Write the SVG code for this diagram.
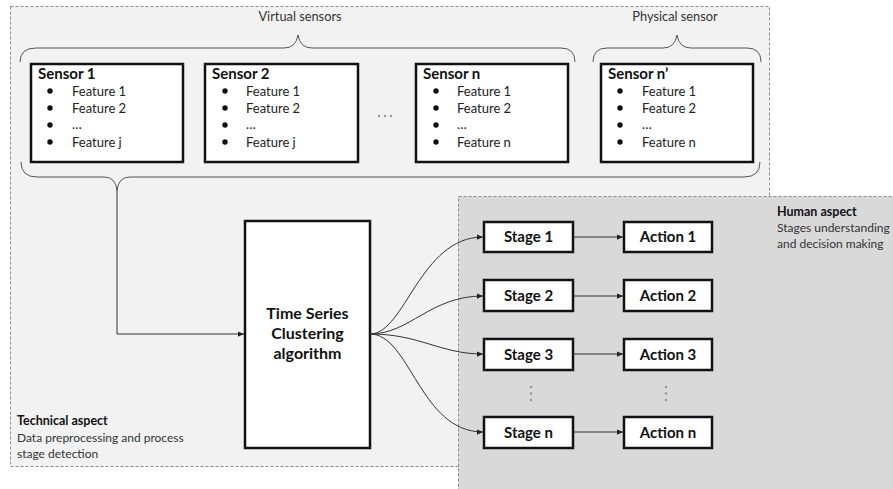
<svg xmlns="http://www.w3.org/2000/svg" width="893" height="489" viewBox="0 0 893 489">
  <style>
    text { font-family: Lato, "Liberation Sans", "DejaVu Sans", sans-serif; fill: #111; }
    .area { stroke: #8c8c8c; stroke-width: 1; stroke-dasharray: 3 2; }
    .box { fill: #fff; stroke: #111; stroke-width: 2.5; }
    .title { font-size: 15px; font-weight: bold; }
    .feat { font-size: 13px; fill: #222; }
    .grp { font-size: 12.8px; fill: #333; }
    .cap { font-size: 12px; fill: #333; }
    .capb { font-size: 12.5px; font-weight: bold; fill: #111; }
    .lbl { font-size: 15px; font-weight: bold; text-anchor: middle; }
    .brace { fill: none; stroke: #555; stroke-width: 1; }
    .conn { fill: none; stroke: #333; stroke-width: 1; }
    .dot { fill: #999; }
    .bul { fill: #111; }
  </style>
  <defs>
    <marker id="arr" viewBox="0 0 8 8" refX="8" refY="4" markerWidth="6" markerHeight="6" markerUnits="userSpaceOnUse" orient="auto">
      <path d="M0,0.5 L8,4 L0,7.5 Z" fill="#222"/>
    </marker>
  </defs>

  <rect width="893" height="489" fill="#fff"/>

  <!-- technical area -->
  <g id="technical-area">
    <rect class="area" x="10.5" y="6.5" width="759" height="460" fill="#f2f2f2"/>
    <text class="capb" x="17" y="425">Technical aspect</text>
    <text class="cap" x="17" y="442">Data preprocessing and process</text>
    <text class="cap" x="17" y="458">stage detection</text>
  </g>

  <!-- human area -->
  <g id="human-area">
    <rect class="area" x="458.5" y="196.5" width="440" height="300" fill="#d9d9d9"/>
    <text class="capb" x="777" y="216">Human aspect</text>
    <text class="cap" x="777" y="232">Stages understanding</text>
    <text class="cap" x="777" y="248">and decision making</text>
  </g>

  <!-- braces and group labels -->
  <g id="groups">
    <text class="grp" x="300" y="21" text-anchor="middle">Virtual sensors</text>
    <path class="brace" d="M20,62 Q20,48 36,48 L284,48 Q296,48 298,35 Q300,48 312,48 L561,48 Q575,48 575,62"/>
    <text class="grp" x="675" y="21" text-anchor="middle">Physical sensor</text>
    <path class="brace" d="M593,62 Q593,48 607,48 L663,48 Q675,48 677,35 Q679,48 691,48 L747,48 Q761,48 761,62"/>
    <path class="brace" d="M21,162 Q21,177 37,177 L104,177 Q116,177 117,191 Q118,177 130,177 L744,177 Q760,177 760,162"/>
  </g>

  <!-- sensors -->
  <g id="sensor-1">
    <rect class="box" x="31" y="64" width="152" height="98"/>
    <text class="title" x="38" y="79">Sensor 1</text>
    <circle class="bul" cx="50" cy="91" r="2.7"/><text class="feat" x="72" y="95.5">Feature 1</text>
    <circle class="bul" cx="50" cy="108" r="2.7"/><text class="feat" x="72" y="112.5">Feature 2</text>
    <circle class="bul" cx="50" cy="125" r="2.7"/><text class="feat" x="72" y="129">…</text>
    <circle class="bul" cx="50" cy="142" r="2.7"/><text class="feat" x="72" y="146.5">Feature j</text>
  </g>
  <g id="sensor-2">
    <rect class="box" x="205" y="64" width="153" height="98"/>
    <text class="title" x="212" y="79">Sensor 2</text>
    <circle class="bul" cx="225" cy="91" r="2.7"/><text class="feat" x="246" y="95.5">Feature 1</text>
    <circle class="bul" cx="225" cy="108" r="2.7"/><text class="feat" x="246" y="112.5">Feature 2</text>
    <circle class="bul" cx="225" cy="125" r="2.7"/><text class="feat" x="246" y="129">…</text>
    <circle class="bul" cx="225" cy="142" r="2.7"/><text class="feat" x="246" y="146.5">Feature j</text>
  </g>
  <g id="ellipsis">
    <circle class="dot" cx="379" cy="116" r="1.2"/>
    <circle class="dot" cx="385" cy="116" r="1.2"/>
    <circle class="dot" cx="391" cy="116" r="1.2"/>
  </g>
  <g id="sensor-n">
    <rect class="box" x="416" y="64" width="152" height="98"/>
    <text class="title" x="423" y="79">Sensor n</text>
    <circle class="bul" cx="436" cy="91" r="2.7"/><text class="feat" x="457" y="95.5">Feature 1</text>
    <circle class="bul" cx="436" cy="108" r="2.7"/><text class="feat" x="457" y="112.5">Feature 2</text>
    <circle class="bul" cx="436" cy="125" r="2.7"/><text class="feat" x="457" y="129">…</text>
    <circle class="bul" cx="436" cy="142" r="2.7"/><text class="feat" x="457" y="146.5">Feature n</text>
  </g>
  <g id="sensor-n-prime">
    <rect class="box" x="601" y="64" width="152" height="98"/>
    <text class="title" x="608" y="79">Sensor n’</text>
    <circle class="bul" cx="620" cy="91" r="2.7"/><text class="feat" x="642" y="95.5">Feature 1</text>
    <circle class="bul" cx="620" cy="108" r="2.7"/><text class="feat" x="642" y="112.5">Feature 2</text>
    <circle class="bul" cx="620" cy="125" r="2.7"/><text class="feat" x="642" y="129">…</text>
    <circle class="bul" cx="620" cy="142" r="2.7"/><text class="feat" x="642" y="146.5">Feature n</text>
  </g>

  <!-- clustering -->
  <g id="clustering">
    <rect class="box" x="245" y="221" width="125" height="227"/>
    <text class="lbl" x="307.5" y="319" style="font-size:16px">Time Series</text>
    <text class="lbl" x="307.5" y="339" style="font-size:16px">Clustering</text>
    <text class="lbl" x="307.5" y="359" style="font-size:16px">algorithm</text>
  </g>

  <!-- stages -->
  <g id="stage-1"><rect class="box" x="484" y="222" width="89" height="30"/><text class="lbl" x="528.5" y="242">Stage 1</text></g>
  <g id="stage-2"><rect class="box" x="484" y="280" width="89" height="31"/><text class="lbl" x="528.5" y="301">Stage 2</text></g>
  <g id="stage-3"><rect class="box" x="484" y="339" width="89" height="31"/><text class="lbl" x="528.5" y="360">Stage 3</text></g>
  <g id="stage-n"><rect class="box" x="484" y="417" width="89" height="31"/><text class="lbl" x="528.5" y="438">Stage n</text></g>

  <!-- actions -->
  <g id="action-1"><rect class="box" x="624" y="222" width="88" height="30"/><text class="lbl" x="668" y="242">Action 1</text></g>
  <g id="action-2"><rect class="box" x="624" y="280" width="88" height="31"/><text class="lbl" x="668" y="301">Action 2</text></g>
  <g id="action-3"><rect class="box" x="624" y="339" width="88" height="31"/><text class="lbl" x="668" y="360">Action 3</text></g>
  <g id="action-n"><rect class="box" x="624" y="417" width="88" height="31"/><text class="lbl" x="668" y="438">Action n</text></g>

  <!-- vertical ellipses -->
  <g id="more-rows">
    <circle class="dot" cx="531" cy="387" r="1.3"/><circle class="dot" cx="531" cy="393.5" r="1.3"/><circle class="dot" cx="531" cy="400" r="1.3"/>
    <circle class="dot" cx="666" cy="387" r="1.3"/><circle class="dot" cx="666" cy="393.5" r="1.3"/><circle class="dot" cx="666" cy="400" r="1.3"/>
  </g>

  <!-- connectors -->
  <g id="connectors">
    <path class="conn" d="M117,191 L117,334 L244,334" marker-end="url(#arr)"/>
    <path class="conn" d="M370,334 C405,334 420,237 483,237" marker-end="url(#arr)"/>
    <path class="conn" d="M370,334 C410,334 430,296 483,296" marker-end="url(#arr)"/>
    <path class="conn" d="M370,334 C420,334 440,354 483,354" marker-end="url(#arr)"/>
    <path class="conn" d="M370,334 C410,334 420,432 483,432" marker-end="url(#arr)"/>
    <path class="conn" d="M573,237 L623,237" marker-end="url(#arr)"/>
    <path class="conn" d="M573,296 L623,296" marker-end="url(#arr)"/>
    <path class="conn" d="M573,354 L623,354" marker-end="url(#arr)"/>
    <path class="conn" d="M573,432 L623,432" marker-end="url(#arr)"/>
  </g>
</svg>
